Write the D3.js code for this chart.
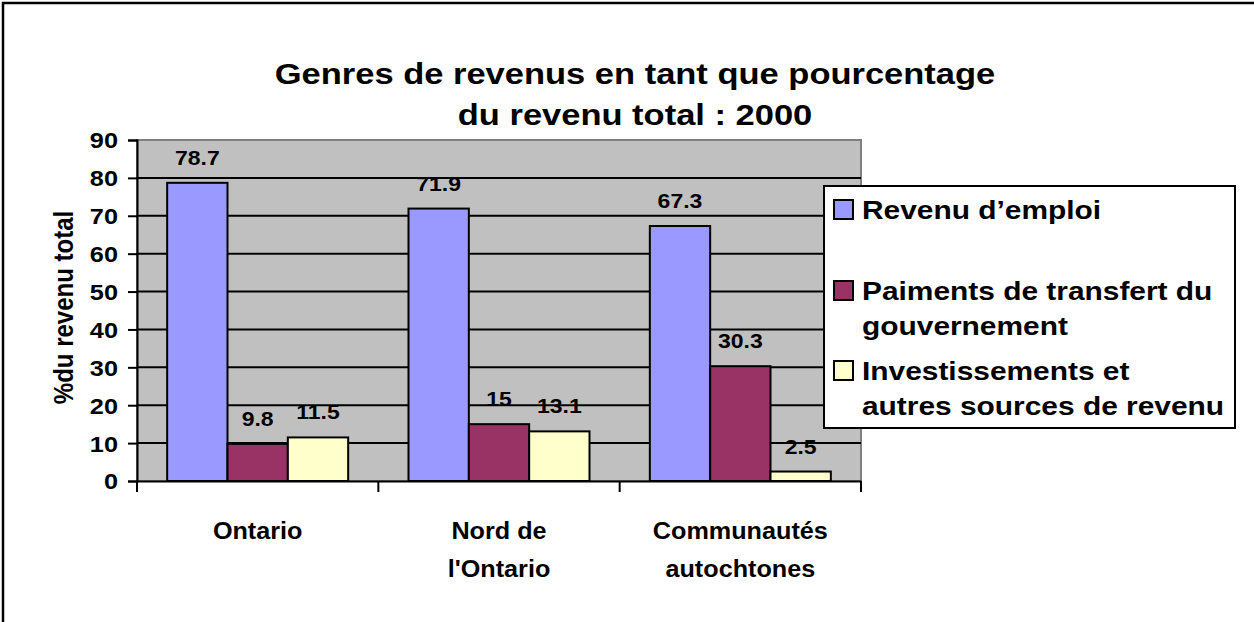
<!DOCTYPE html>
<html>
<head>
<meta charset="utf-8">
<script src="https://cdn.jsdelivr.net/npm/d3@7"></script>
<style>
  html, body { margin: 0; padding: 0; background: #fff; }
  svg { display: block; }
  text { font-family: "Liberation Sans", Arial, sans-serif; font-weight: bold; fill: #000; }
</style>
</head>
<body>
<svg id="chart" width="1254" height="622"></svg>
<script>
const categories = ['Ontario', "Nord de l'Ontario", 'Communautés autochtones']
const categoryLines = [['Ontario'], ['Nord de', "l'Ontario"], ['Communautés', 'autochtones']]
const seriesKeys = ['emploi', 'transfert', 'invest']
const seriesColors = ['#9999FF', '#993366', '#FFFFCC']
const legendLines = [
  ['Revenu d’emploi'],
  ['Paiments de transfert du', 'gouvernement'],
  ['Investissements et', 'autres sources de revenu']
]
const revenuEmploi = [78.7, 71.9, 67.3]
const paiementsTransfert = [9.8, 15, 30.3]
const investissements = [11.5, 13.1, 2.5]
const yTicks = [0, 10, 20, 30, 40, 50, 60, 70, 80, 90]
const titleLines = ['Genres de revenus en tant que pourcentage', 'du revenu total : 2000']
const yTitle = '%du revenu total'

const SX = 1.15 // the source picture is stretched horizontally

const table = categories.map((c, i) => ({
  cat: c,
  values: [revenuEmploi[i], paiementsTransfert[i], investissements[i]]
}))

const svg = d3.select('#chart')
const plotL = 137, plotR = 861, plotT = 140, plotB = 481

// outer frame (right and bottom edges fall outside the picture)
svg.append('rect')
  .attr('x', 3).attr('y', 3)
  .attr('width', 1270).attr('height', 640)
  .attr('fill', 'none').attr('stroke', '#000').attr('stroke-width', 2.5)

const x0 = d3.scaleBand().domain(categories).range([plotL, plotR])
const bw = x0.bandwidth()
const x1 = d3.scaleBand().domain(seriesKeys).range([bw / 8, bw * 7 / 8])
const y = d3.scaleLinear().domain([0, 90]).range([plotB, plotT])

const sText = (sel, x, yy, sx = SX) => sel.attr('transform', `translate(${x},${yy}) scale(${sx},1)`)

// plot area
svg.append('rect')
  .attr('x', plotL).attr('y', plotT)
  .attr('width', plotR - plotL).attr('height', plotB - plotT)
  .attr('fill', '#C0C0C0').attr('stroke', '#808080').attr('stroke-width', 2)

// gridlines
svg.append('g')
  .selectAll('line')
  .data(yTicks.filter(d => d > 0 && d < 90))
  .join('line')
  .attr('x1', plotL).attr('x2', plotR)
  .attr('y1', d => y(d)).attr('y2', d => y(d))
  .attr('stroke', '#000').attr('stroke-width', 2)

// bars
const groups = svg.append('g')
  .selectAll('g')
  .data(table)
  .join('g')
  .attr('transform', d => `translate(${x0(d.cat)},0)`)

groups.selectAll('rect')
  .data(d => d.values.map((v, i) => ({ key: seriesKeys[i], v, i })))
  .join('rect')
  .attr('x', d => x1(d.key))
  .attr('y', d => y(d.v))
  .attr('width', x1.bandwidth())
  .attr('height', d => y(0) - y(d.v))
  .attr('fill', d => seriesColors[d.i])
  .attr('stroke', '#000').attr('stroke-width', 2)

groups.selectAll('text')
  .data(d => d.values.map((v, i) => ({ key: seriesKeys[i], v, i })))
  .join('text')
  .attr('text-anchor', 'middle')
  .style('font-size', '20px')
  .each(function (d) {
    sText(d3.select(this), x1(d.key) + x1.bandwidth() / 2, y(d.v) - 18)
  })
  .text(d => d.v)

// y axis
const yAxis = d3.axisLeft(y).tickValues(yTicks).tickSize(9).tickPadding(10)
const gy = svg.append('g').attr('transform', `translate(${plotL},0)`).call(yAxis)
gy.attr('font-family', null).attr('font-size', null)
gy.select('.domain').attr('stroke', '#000').attr('stroke-width', 2)
gy.selectAll('.tick line').attr('stroke', '#000').attr('stroke-width', 2)
gy.selectAll('.tick text')
  .style('font-size', '22px')
  .attr('dy', '0.36em')
  .attr('x', null)
  .attr('transform', `translate(-19,0) scale(${SX},1)`)

// x axis
const xAxis = d3.axisBottom(x0).tickSize(0).tickFormat('')
const gx = svg.append('g').attr('transform', `translate(0,${plotB})`).call(xAxis)
gx.select('.domain').attr('stroke', '#000').attr('stroke-width', 2)
gx.selectAll('.boundary')
  .data(categories.map(c => x0(c)).concat([plotR]))
  .join('line')
  .attr('class', 'boundary')
  .attr('x1', d => d).attr('x2', d => d)
  .attr('y1', 0).attr('y2', 11)
  .attr('stroke', '#000').attr('stroke-width', 2)

svg.append('g')
  .selectAll('text')
  .data(categories)
  .join('text')
  .attr('text-anchor', 'middle')
  .style('font-size', '24px')
  .each(function (c, i) {
    const t = d3.select(this)
    sText(t, x0(c) + bw / 2, 539, 1.05)
    t.selectAll('tspan')
      .data(categoryLines[i])
      .join('tspan')
      .attr('x', 0)
      .attr('dy', (d, j) => (j === 0 ? 0 : 38))
      .text(d => d)
  })

// y title
svg.append('text')
  .attr('text-anchor', 'middle')
  .attr('transform', `translate(73,${(plotT + plotB) / 2 - 3}) rotate(-90) scale(1,${SX})`)
  .style('font-size', '24px')
  .text(yTitle)

// title
svg.append('g')
  .selectAll('text')
  .data(titleLines)
  .join('text')
  .attr('text-anchor', 'middle')
  .style('font-size', '30px')
  .each(function (d, i) {
    sText(d3.select(this), 635, 84 + i * 41)
  })
  .text(d => d)

// legend
const legend = svg.append('g')
legend.append('rect')
  .attr('x', 824).attr('y', 186)
  .attr('width', 411).attr('height', 242)
  .attr('fill', '#fff').attr('stroke', '#000').attr('stroke-width', 2)

const legendBase = [219, 300, 380]
const items = legend.selectAll('g.item')
  .data(legendLines)
  .join('g')
  .attr('class', 'item')

items.append('rect')
  .attr('x', 834).attr('y', (d, i) => legendBase[i] - 19)
  .attr('width', 19).attr('height', 19)
  .attr('fill', (d, i) => seriesColors[i])
  .attr('stroke', '#000').attr('stroke-width', 2)

items.append('text')
  .style('font-size', '26px')
  .each(function (lines, i) {
    const t = d3.select(this)
    sText(t, 862, legendBase[i])
    t.selectAll('tspan')
      .data(lines)
      .join('tspan')
      .attr('x', 0)
      .attr('dy', (d, j) => (j === 0 ? 0 : 35))
      .text(d => d)
  })
</script>
</body>
</html>
